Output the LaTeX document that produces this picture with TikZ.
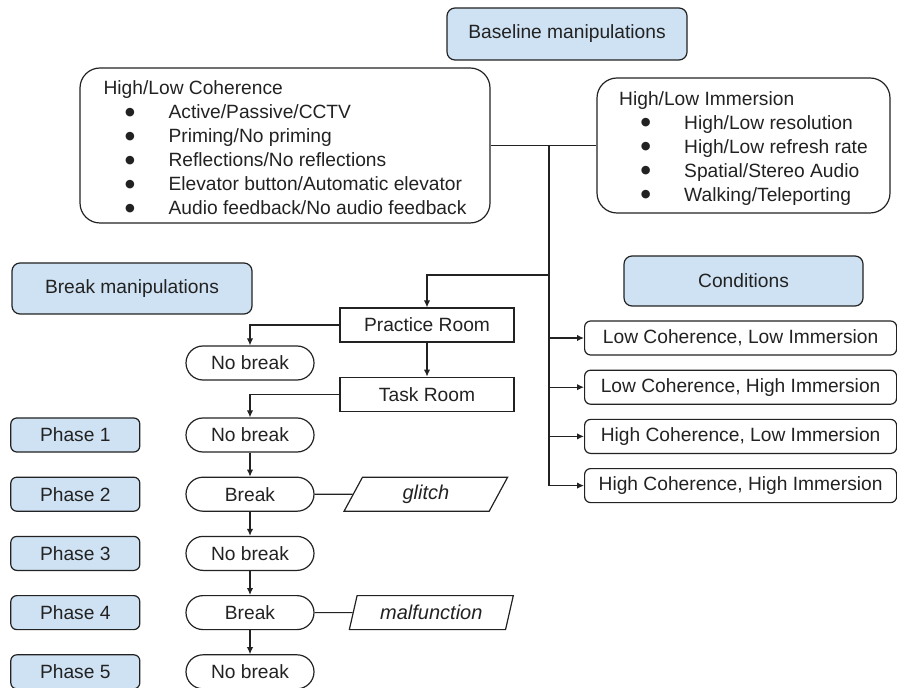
\documentclass[tikz,border=0pt]{standalone}
\usepackage{fontspec}
\setmainfont{Liberation Sans}
\newfontfamily\dejavu{DejaVu Sans}
\usepackage{tikz}
\usetikzlibrary{arrows.meta,positioning,shapes.geometric}
\definecolor{headblue}{RGB}{207,226,243}
\definecolor{inkgray}{RGB}{34,34,34}
\newcommand{\bul}[1]{\makebox[32.5pt][l]{\hspace{10.8pt}\raisebox{1.8pt}{\dejavu\fontsize{5.6}{6}\selectfont ●}}#1}
\tikzset{headbox/.style={rectangle, rounded corners=4pt, draw=inkgray, fill=headblue, line width=0.6pt, align=center, inner sep=0pt}, listbox/.style={rectangle, rounded corners=10pt, draw=inkgray, line width=0.6pt, align=left, inner sep=0pt}, roombox/.style={rectangle, draw=inkgray, line width=0.6pt, minimum width=87pt, minimum height=17pt, inner sep=0pt}, stadium/.style={rectangle, rounded corners=8.5pt, draw=inkgray, line width=0.6pt, minimum width=64pt, minimum height=17pt, inner sep=0pt}, phasebox/.style={headbox, minimum width=64.5pt, minimum height=17pt, rounded corners=3pt}, condbox/.style={rectangle, rounded corners=3pt, draw=inkgray, line width=0.6pt, minimum width=156pt, minimum height=17pt, inner sep=0pt}, slantbox/.style={trapezium, trapezium left angle=70, trapezium right angle=110, trapezium stretches=true, draw=inkgray, line width=0.6pt, minimum width=82pt, minimum height=17pt, inner sep=0pt, font=\itshape}, link/.style={draw=inkgray, line width=0.6pt}, arrow/.style={link, -{Latex[length=3.5pt,width=3.2pt]}}}
\begin{document}
\begin{tikzpicture}[x=0.5pt, y=-0.5pt, node distance=12pt, font=\fontsize{9.6}{12}\selectfont, text=inkgray]
\useasboundingbox (0,0) rectangle (897,688);
\node[headbox, minimum width=120pt, minimum height=26pt] (baseline) at (567,34) {Baseline manipulations};
\node[listbox, minimum width=205pt, minimum height=77.5pt] (coherence) at (285,145.5) {\rule{0pt}{9.5pt}High/Low Coherence\\\bul{Active/Passive/CCTV}\\\bul{Priming/No priming}\\\bul{Reflections/No reflections}\\\bul{Elevator button/Automatic elevator}\\\bul{Audio feedback/No audio feedback}};
\node[listbox, minimum width=146.5pt, minimum height=67.5pt] (immersion) at (743.5,145.5) {\rule{0pt}{10pt}High/Low Immersion\\\bul{High/Low resolution}\\\bul{High/Low refresh rate}\\\bul{Spatial/Stereo Audio}\\\bul{Walking/Teleporting}};
\node[headbox, minimum width=120pt, minimum height=25.5pt] (breaks) at (132,288.5) {Break manipulations};
\node[headbox, minimum width=119.5pt, minimum height=25pt] (conditions) at (743.5,281) {Conditions};
\node[condbox, anchor=west] (lcli) at (584,338) {Low Coherence, Low Immersion};
\node[condbox, below=7pt of lcli] (lchi) {Low Coherence, High Immersion};
\node[condbox, below=7pt of lchi] (hcli) {High Coherence, Low Immersion};
\node[condbox, below=7pt of hcli] (hchi) {High Coherence, High Immersion};
\node[roombox] (practice) at (427,325) {Practice Room};
\node[roombox, below=17pt of practice] (task) {Task Room};
\node[stadium] (pre) at (250,363) {No break};
\node[stadium] (nb1) at (250,435) {No break};
\node[stadium, below=of nb1] (br1) {Break};
\node[stadium, below=of br1] (nb2) {No break};
\node[stadium, below=of nb2] (br2) {Break};
\node[stadium, below=of br2] (nb3) {No break};
\node[phasebox, left=22.5pt of nb1] (ph1) {Phase 1};
\node[phasebox, left=22.5pt of br1] (ph2) {Phase 2};
\node[phasebox, left=22.5pt of nb2] (ph3) {Phase 3};
\node[phasebox, left=22.5pt of br2] (ph4) {Phase 4};
\node[phasebox, left=22.5pt of nb3] (ph5) {Phase 5};
\node[slantbox, right=19pt of br1] (glitch) {glitch};
\node[slantbox, right=19pt of br2] (malfunction) {malfunction};
\coordinate (hub) at (549,145.5);
\coordinate (split) at (549,275);
\draw[link] (coherence) -- (immersion);
\foreach \c in {lcli,lchi,hcli,hchi} \draw[arrow] (hub) |- (\c.west);
\draw[arrow] (split) -| (practice.north);
\draw[arrow] (practice) -- (task);
\draw[arrow] (practice.west) -| (pre.north);
\draw[arrow] (task.west) -| (nb1.north);
\draw[arrow] (nb1) -- (br1);
\draw[arrow] (br1) -- (nb2);
\draw[arrow] (nb2) -- (br2);
\draw[arrow] (br2) -- (nb3);
\draw[link] (br1) -- (glitch);
\draw[link] (br2) -- (malfunction);
\end{tikzpicture}
\end{document}
